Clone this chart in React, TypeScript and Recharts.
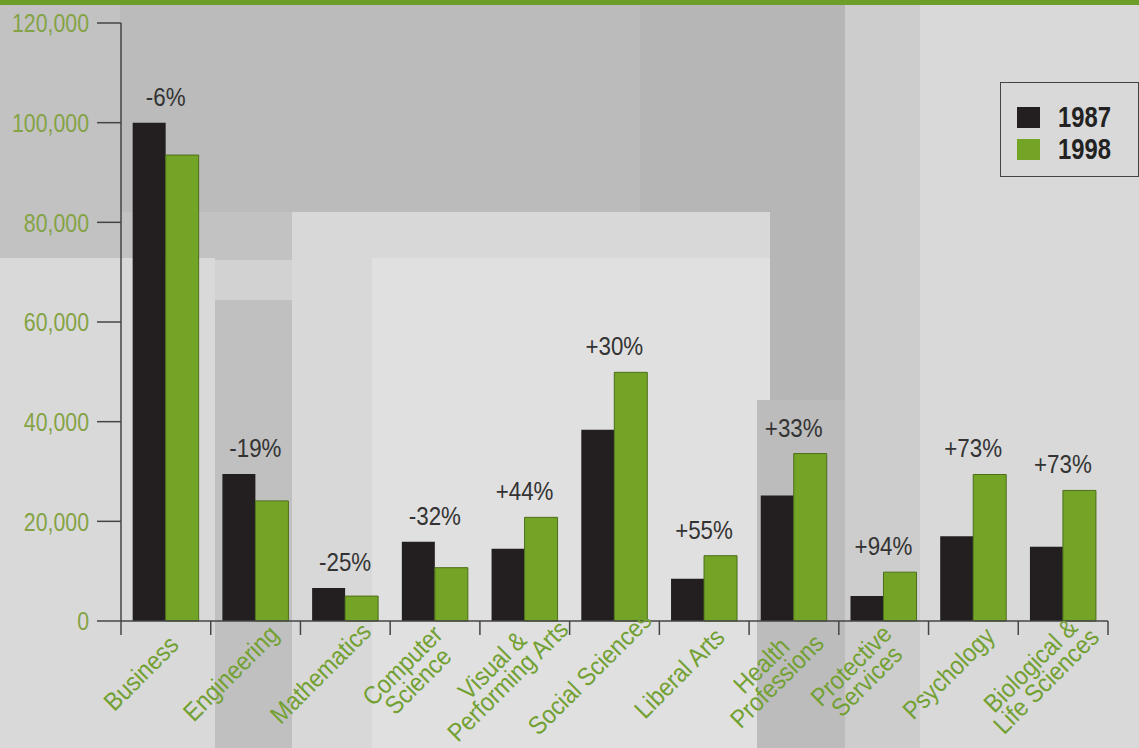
import { BarChart, Bar, XAxis, YAxis, LabelList } from 'recharts';

// degrees by field, 1987 vs 1998
const categories = [
  'Business',
  'Engineering',
  'Mathematics',
  'Computer\nScience',
  'Visual &\nPerforming Arts',
  'Social Sciences',
  'Liberal Arts',
  'Health\nProfessions',
  'Protective\nServices',
  'Psychology',
  'Biological &\nLife Sciences',
];
const y1987 = [100000, 29500, 6600, 15900, 14500, 38400, 8500, 25200, 5000, 17000, 14900];
const y1998 = [93500, 24100, 5000, 10700, 20800, 49900, 13100, 33600, 9800, 29400, 26200];
const changes = ['-6%', '-19%', '-25%', '-32%', '+44%', '+30%', '+55%', '+33%', '+94%', '+73%', '+73%'];
const yTicks = [0, 20000, 40000, 60000, 80000, 100000, 120000];
const seriesNames = ['1987', '1998'];

const data = categories.map((name, i) => ({ name, y1987: y1987[i], y1998: y1998[i] }));

const FONT = '"Liberation Sans", Arial, sans-serif';
const SQUEEZE = 0.82; // fake a narrow face
const DARK = '#231f20';
const GREEN = '#73a426';
const COLORS = [DARK, GREEN];

const YTick = (props: any) => {
  const { x, y, payload } = props;
  return (
    <text
      transform={`translate(${x}, ${y}) scale(${SQUEEZE}, 1)`}
      textAnchor="end"
      dominantBaseline="central"
      fill="#84a345"
      fontFamily={FONT}
      fontSize={26}
    >
      {Number(payload.value).toLocaleString('en-US')}
    </text>
  );
};

const XTick = (props: any) => {
  const { x, y, payload, index, visibleTicksCount } = props;
  const half = payload && payload.offset ? payload.offset : 44.85;
  const lines = String(payload.value).split('\n');
  const cx = x - 25;
  const cy = y + 52;
  const lh = 22;
  const isLast = index === (visibleTicksCount ?? categories.length) - 1;
  return (
    <g>
      <line x1={x - half} y1={y} x2={x - half} y2={y + 14} stroke="#444" strokeWidth={1.5} />
      {isLast && <line x1={x + half} y1={y} x2={x + half} y2={y + 14} stroke="#444" strokeWidth={1.5} />}
      <text
        transform={`translate(${cx}, ${cy}) rotate(-45) scale(0.9, 1)`}
        textAnchor="middle"
        fill="#72a032"
        fontFamily={FONT}
        fontSize={25.5}
      >
        {lines.map((l, i) => (
          <tspan key={i} x={0} dy={i === 0 ? -((lines.length - 1) / 2) * lh + 9 : lh}>
            {l}
          </tspan>
        ))}
      </text>
    </g>
  );
};

const renderChange = (props: any) => {
  const vb = props.viewBox ?? props;
  const { x, y, height } = vb;
  const i = props.index;
  const v = y1998[i];
  const perUnit = height / v;
  const base = y + height;
  const top = base - Math.max(v, y1987[i]) * perUnit;
  return (
    <text
      transform={`translate(${x}, ${top - 17}) scale(0.86, 1)`}
      textAnchor="middle"
      fill="#333"
      fontFamily={FONT}
      fontSize={26}
    >
      {changes[i]}
    </text>
  );
};

const bg = (left: number, top: number, width: number, height: number, background: string) => (
  <div style={{ position: 'absolute', left, top, width, height, background }} />
);

export default function App() {
  return (
    <div style={{ position: 'absolute', left: 0, top: 0, width: 1139, height: 748, overflow: 'hidden', background: '#d2d2d2' }}>
      {bg(0, 0, 845, 260, '#c2c2c2')}
      {bg(120, 0, 520, 212, '#bbbbbb')}
      {bg(640, 0, 205, 748, '#b6b6b6')}
      {bg(845, 0, 75, 748, '#cdcdcd')}
      {bg(920, 0, 219, 748, '#d9d9d9')}
      {bg(0, 258, 215, 490, '#d9d9d9')}
      {bg(215, 300, 78, 448, '#c0c0c0')}
      {bg(292, 212, 478, 536, '#d8d8d8')}
      {bg(372, 258, 398, 490, '#e0e0e0')}
      {bg(757, 400, 88, 348, '#bcbcbc')}
      {bg(0, 0, 1139, 5, '#6e9e2a')}
      <div style={{ position: 'absolute', left: 0, top: 0 }}>
        <BarChart
          width={1139}
          height={748}
          data={data}
          margin={{ top: 23, right: 31, bottom: 0, left: 0 }}
          barCategoryGap="13%"
          barGap={0}
        >
          <YAxis
            domain={[0, 120000]}
            ticks={yTicks}
            width={121}
            tickSize={24}
            tickMargin={8}
            axisLine={{ stroke: '#444', strokeWidth: 1.5 }}
            tickLine={{ stroke: '#444', strokeWidth: 1.5 }}
            tick={<YTick />}
            interval={0}
          />
          <XAxis
            dataKey="name"
            height={127}
            interval={0}
            tickLine={false}
            tickSize={0}
            tickMargin={0}
            axisLine={{ stroke: '#444', strokeWidth: 1.5 }}
            tick={<XTick />}
          />
          <Bar dataKey="y1987" name={seriesNames[0]} fill={DARK} isAnimationActive={false} />
          <Bar dataKey="y1998" name={seriesNames[1]} fill={GREEN} stroke="#4d6e1a" strokeWidth={1} isAnimationActive={false}>
            <LabelList dataKey="y1998" content={renderChange} />
          </Bar>
        </BarChart>
      </div>
      <div
        style={{
          position: 'absolute',
          left: 1000,
          top: 82,
          width: 139,
          height: 95,
          border: '1.5px solid #444',
          boxSizing: 'border-box',
          padding: '18px 0 0 16px',
          fontFamily: FONT,
          fontWeight: 'bold',
          fontSize: 29,
          color: '#222',
        }}
      >
        {seriesNames.map((label, i) => (
          <div key={label} style={{ display: 'flex', alignItems: 'center', height: 32 }}>
            <span style={{ display: 'inline-block', width: 23, height: 21, background: COLORS[i], marginRight: 18 }} />
            <span style={{ display: 'inline-block', transform: `scaleX(${SQUEEZE})`, transformOrigin: 'left center' }}>{label}</span>
          </div>
        ))}
      </div>
    </div>
  );
}
